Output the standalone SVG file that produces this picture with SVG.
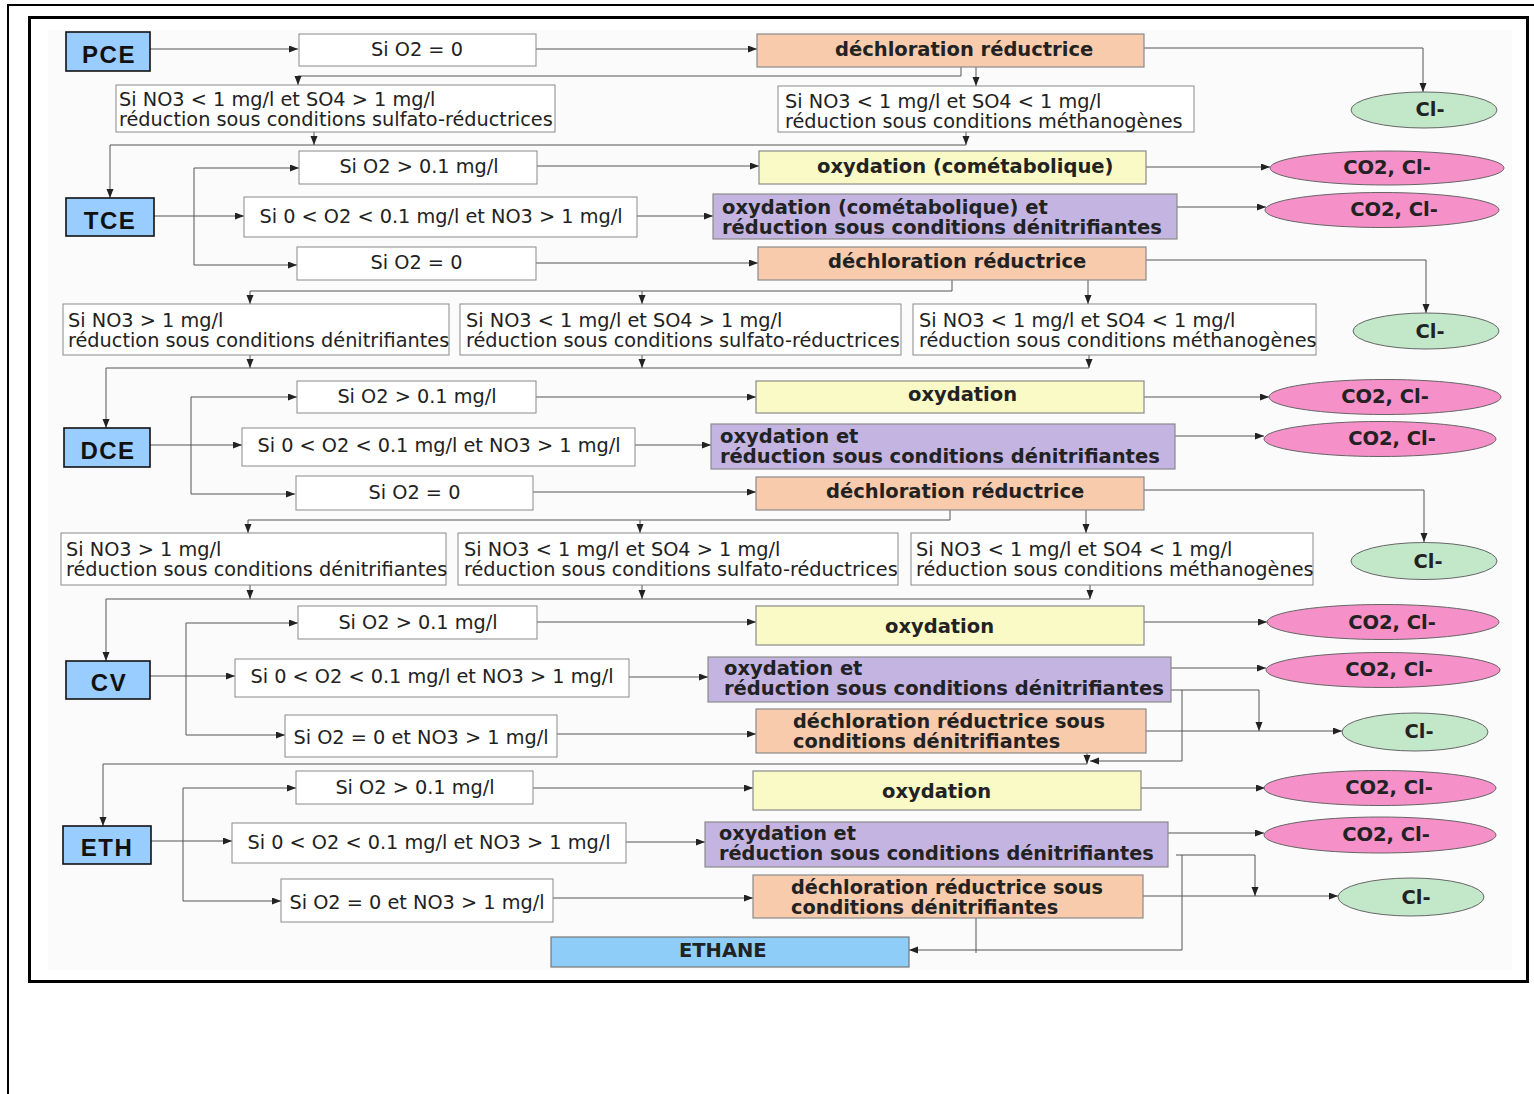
<svg xmlns="http://www.w3.org/2000/svg" width="1534" height="1094" viewBox="0 0 1534 1094">
<defs>
<style>
.frame{fill:none;stroke:#000}
.cond{fill:#fff;stroke:#8a8a8a;stroke-width:1}
.node{fill:#99ccff;stroke:#111;stroke-width:1.6}
.dech{fill:#f8cbad;stroke:#8a8a8a;stroke-width:1.2}
.oxy{fill:#fafac6;stroke:#8a8a8a;stroke-width:1.2}
.pur{fill:#c4b4e2;stroke:#8a8a8a;stroke-width:1.2}
.pink{fill:#f590c8;stroke:#666;stroke-width:1}
.green{fill:#c2e8c9;stroke:#666;stroke-width:1}
.eth{fill:#8dcdf8;stroke:#777;stroke-width:1.2}
.t{font-family:"DejaVu Sans",Verdana,sans-serif;font-size:19.3px;fill:#222}
.m{text-anchor:middle}
.b{font-family:"DejaVu Sans",Verdana,sans-serif;font-weight:bold;font-size:19.5px;fill:#222}
.b2{font-family:"DejaVu Sans",Verdana,sans-serif;font-weight:bold;font-size:19.3px;fill:#222}
.n{font-family:"Liberation Sans",Arial,sans-serif;font-weight:bold;font-size:24px;letter-spacing:1.5px;fill:#111;text-anchor:middle}
.c{fill:none;stroke:#555;stroke-width:1}
.a{marker-end:url(#ah)}
</style>
<marker id="ah" markerUnits="userSpaceOnUse" markerWidth="10" markerHeight="8" refX="9" refY="3.5" orient="auto">
<path d="M0,0 L9,3.5 L0,7 z" fill="#222"/>
</marker>
</defs>
<rect width="1534" height="1094" fill="#fff"/>
<path class="frame" d="M8,1094 V5 H1534" stroke-width="2"/>
<rect x="29.5" y="17.5" width="1498" height="964" class="frame" stroke-width="3"/>
<rect x="48" y="30" width="1464" height="940" fill="#fbfbfb"/>

<g id="connectors">
<path class="c a" d="M150,49 H298"/>
<path class="c a" d="M536,49 H757"/>
<path class="c a" d="M1144,48 H1423 V92"/>
<path class="c a" d="M961,67 V76 H298 V85"/>
<path class="c a" d="M976,67 V86"/>
<path class="c a" d="M314,132 V145"/>
<path class="c a" d="M966,132 V145"/>
<path class="c a" d="M966,145 H110 V198"/>
<path class="c a" d="M154,216 H244"/>
<path class="c" d="M194,168 V265"/>
<path class="c a" d="M194,168 H299"/>
<path class="c a" d="M194,265 H297"/>
<path class="c a" d="M537,166 H759"/>
<path class="c a" d="M1146,167 H1270"/>
<path class="c a" d="M637,216 H713"/>
<path class="c a" d="M1060,207 H1266"/>
<path class="c a" d="M536,263 H758"/>
<path class="c a" d="M1146,260 H1426 V313"/>
<path class="c a" d="M952,280 V291 H250 V304"/>
<path class="c a" d="M642,291 V304"/>
<path class="c a" d="M1088,280 V304"/>
<path class="c a" d="M250,355 V368"/>
<path class="c a" d="M642,355 V368"/>
<path class="c a" d="M1089,355 V368"/>
<path class="c a" d="M1089,368 H106 V428"/>
<path class="c a" d="M150,445 H242"/>
<path class="c" d="M191,397 V494"/>
<path class="c a" d="M191,397 H297"/>
<path class="c a" d="M191,494 H295"/>
<path class="c a" d="M536,397 H756"/>
<path class="c a" d="M1144,397 H1269"/>
<path class="c a" d="M635,445 H711"/>
<path class="c a" d="M867,436 H1264"/>
<path class="c a" d="M533,492 H756"/>
<path class="c a" d="M1144,490 H1424 V542"/>
<path class="c a" d="M950,510 V520 H248 V533"/>
<path class="c a" d="M640,520 V533"/>
<path class="c a" d="M1086,510 V533"/>
<path class="c a" d="M250,585 V599"/>
<path class="c a" d="M642,585 V599"/>
<path class="c a" d="M1090,585 V599"/>
<path class="c a" d="M1090,599 H106 V661"/>
<path class="c a" d="M150,676 H235"/>
<path class="c" d="M186,623 V735"/>
<path class="c a" d="M186,623 H298"/>
<path class="c a" d="M186,735 H285"/>
<path class="c a" d="M537,622 H756"/>
<path class="c a" d="M1144,622 H1267"/>
<path class="c a" d="M629,677 H708"/>
<path class="c a" d="M889,668 H1266"/>
<path class="c a" d="M557,734 H756"/>
<path class="c a" d="M1146,731 H1342"/>
<path class="c a" d="M1171,690 H1259 V731"/>
<path class="c a" d="M1182,690 V761 H1090"/>
<path class="c a" d="M1087,753 V764"/>
<path class="c a" d="M1087,764 H103 V826"/>
<path class="c a" d="M150,841 H232"/>
<path class="c" d="M183,788 V901"/>
<path class="c a" d="M183,788 H296"/>
<path class="c a" d="M183,901 H281"/>
<path class="c a" d="M533,788 H753"/>
<path class="c a" d="M1141,788 H1265"/>
<path class="c a" d="M626,842 H705"/>
<path class="c a" d="M886,833 H1264"/>
<path class="c a" d="M553,898 H753"/>
<path class="c a" d="M1143,896 H1338"/>
<path class="c a" d="M1176,855 H1255 V896"/>
<path class="c a" d="M1182,855 V950 H909"/>
<path class="c" d="M976,918 V953"/>
</g>

<g id="pce"><rect class="node" x="66" y="32" width="84" height="39"/><text class="n" x="109" y="63">PCE</text></g>
<g id="pce-o2-0"><rect class="cond" x="299" y="34" width="237" height="32"/><text class="t m" x="417" y="55.5">Si O2 = 0</text></g>
<g id="pce-dechl"><rect class="dech" x="757" y="34" width="387" height="33"/><text class="b" x="835" y="56">déchloration réductrice</text></g>
<g id="pce-cl"><ellipse class="green" cx="1424" cy="110" rx="73" ry="18"/><text class="b m" x="1430" y="116">Cl-</text></g>
<g id="pce-sulfato"><rect class="cond" x="116" y="85" width="439" height="47"/><text class="t" x="119" y="106">Si NO3 &lt; 1 mg/l et SO4 &gt; 1 mg/l<tspan x="119" dy="20">réduction sous conditions sulfato-réductrices</tspan></text></g>
<g id="pce-methano"><rect class="cond" x="778" y="86" width="416" height="46"/><text class="t" x="785" y="107.5">Si NO3 &lt; 1 mg/l et SO4 &lt; 1 mg/l<tspan x="785" dy="20">réduction sous conditions méthanogènes</tspan></text></g>

<g id="tce"><rect class="node" x="66" y="198" width="88" height="38"/><text class="n" x="110" y="228.5">TCE</text></g>
<g id="tce-o2-high"><rect class="cond" x="299" y="151" width="238" height="33"/><text class="t m" x="419" y="172.5">Si O2 &gt; 0.1 mg/l</text></g>
<g id="tce-o2-mid"><rect class="cond" x="244" y="197" width="393" height="40"/><text class="t m" x="441" y="222.5">Si 0 &lt; O2 &lt; 0.1 mg/l et NO3 &gt; 1 mg/l</text></g>
<g id="tce-o2-0"><rect class="cond" x="297" y="247" width="239" height="33"/><text class="t m" x="416.5" y="268.5">Si O2 = 0</text></g>
<g id="tce-oxy"><rect class="oxy" x="759" y="151" width="387" height="33"/><text class="b" x="817" y="172.5">oxydation (cométabolique)</text></g>
<g id="tce-co2-1"><ellipse class="pink" cx="1387" cy="168" rx="117" ry="17"/><text class="b m" x="1387" y="174">CO2, Cl-</text></g>
<g id="tce-oxyred"><rect class="pur" x="713" y="194" width="464" height="45"/><text class="b" x="722" y="213.5">oxydation (cométabolique) et<tspan x="722" dy="20">réduction sous conditions dénitrifiantes</tspan></text></g>
<g id="tce-co2-2"><ellipse class="pink" cx="1382" cy="210" rx="117" ry="17.5"/><text class="b m" x="1394" y="215.5">CO2, Cl-</text></g>
<g id="tce-dechl"><rect class="dech" x="758" y="247" width="388" height="33"/><text class="b" x="828" y="268">déchloration réductrice</text></g>
<g id="tce-cl"><ellipse class="green" cx="1426" cy="331" rx="73" ry="18"/><text class="b m" x="1430" y="338">Cl-</text></g>
<g id="tce-denit"><rect class="cond" x="63" y="304" width="386" height="51"/><text class="t" x="68" y="326.5">Si NO3 &gt; 1 mg/l<tspan x="68" dy="20">réduction sous conditions dénitrifiantes</tspan></text></g>
<g id="tce-sulfato"><rect class="cond" x="460" y="304" width="441" height="51"/><text class="t" x="466" y="326.5">Si NO3 &lt; 1 mg/l et SO4 &gt; 1 mg/l<tspan x="466" dy="20">réduction sous conditions sulfato-réductrices</tspan></text></g>
<g id="tce-methano"><rect class="cond" x="913" y="304" width="403" height="51"/><text class="t" x="919" y="326.5">Si NO3 &lt; 1 mg/l et SO4 &lt; 1 mg/l<tspan x="919" dy="20">réduction sous conditions méthanogènes</tspan></text></g>

<g id="dce"><rect class="node" x="64" y="428" width="86" height="39"/><text class="n" x="108" y="459">DCE</text></g>
<g id="dce-o2-high"><rect class="cond" x="297" y="381" width="239" height="32"/><text class="t m" x="417" y="402.5">Si O2 &gt; 0.1 mg/l</text></g>
<g id="dce-o2-mid"><rect class="cond" x="242" y="428" width="393" height="38"/><text class="t m" x="439" y="452">Si 0 &lt; O2 &lt; 0.1 mg/l et NO3 &gt; 1 mg/l</text></g>
<g id="dce-o2-0"><rect class="cond" x="296" y="476" width="237" height="34"/><text class="t m" x="414.5" y="498.5">Si O2 = 0</text></g>
<g id="dce-oxy"><rect class="oxy" x="756" y="381" width="388" height="32"/><text class="b" x="908" y="401">oxydation</text></g>
<g id="dce-co2-1"><ellipse class="pink" cx="1385" cy="397" rx="116" ry="17.5"/><text class="b m" x="1385" y="403">CO2, Cl-</text></g>
<g id="dce-oxyred"><rect class="pur" x="711" y="424" width="464" height="45"/><text class="b" x="720" y="443">oxydation et<tspan x="720" dy="20">réduction sous conditions dénitrifiantes</tspan></text></g>
<g id="dce-co2-2"><ellipse class="pink" cx="1380" cy="439" rx="116" ry="17.5"/><text class="b m" x="1392" y="444.5">CO2, Cl-</text></g>
<g id="dce-dechl"><rect class="dech" x="756" y="477" width="388" height="33"/><text class="b" x="826" y="497.5">déchloration réductrice</text></g>
<g id="dce-cl"><ellipse class="green" cx="1424" cy="561" rx="73" ry="18.5"/><text class="b m" x="1428" y="567.5">Cl-</text></g>
<g id="dce-denit"><rect class="cond" x="61" y="533" width="385" height="52"/><text class="t" x="66" y="556">Si NO3 &gt; 1 mg/l<tspan x="66" dy="20">réduction sous conditions dénitrifiantes</tspan></text></g>
<g id="dce-sulfato"><rect class="cond" x="458" y="533" width="440" height="52"/><text class="t" x="464" y="556">Si NO3 &lt; 1 mg/l et SO4 &gt; 1 mg/l<tspan x="464" dy="20">réduction sous conditions sulfato-réductrices</tspan></text></g>
<g id="dce-methano"><rect class="cond" x="911" y="533" width="402" height="52"/><text class="t" x="916" y="556">Si NO3 &lt; 1 mg/l et SO4 &lt; 1 mg/l<tspan x="916" dy="20">réduction sous conditions méthanogènes</tspan></text></g>

<g id="cv"><rect class="node" x="66" y="661" width="84" height="38"/><text class="n" x="109" y="691">CV</text></g>
<g id="cv-o2-high"><rect class="cond" x="298" y="606" width="239" height="33"/><text class="t m" x="418" y="628.5">Si O2 &gt; 0.1 mg/l</text></g>
<g id="cv-o2-mid"><rect class="cond" x="235" y="659" width="394" height="38"/><text class="t m" x="432" y="683">Si 0 &lt; O2 &lt; 0.1 mg/l et NO3 &gt; 1 mg/l</text></g>
<g id="cv-o2-0"><rect class="cond" x="285" y="715" width="272" height="42"/><text class="t m" x="421" y="743.5">Si O2 = 0 et NO3 &gt; 1 mg/l</text></g>
<g id="cv-oxy"><rect class="oxy" x="756" y="606" width="388" height="39"/><text class="b" x="885" y="632.5">oxydation</text></g>
<g id="cv-co2-1"><ellipse class="pink" cx="1383" cy="622" rx="116" ry="17.5"/><text class="b m" x="1392" y="628.5">CO2, Cl-</text></g>
<g id="cv-oxyred"><rect class="pur" x="708" y="657" width="463" height="45"/><text class="b" x="724" y="675">oxydation et<tspan x="724" dy="20">réduction sous conditions dénitrifiantes</tspan></text></g>
<g id="cv-co2-2"><ellipse class="pink" cx="1383" cy="670" rx="117" ry="17.5"/><text class="b m" x="1389" y="675.5">CO2, Cl-</text></g>
<g id="cv-dechl"><rect class="dech" x="756" y="709" width="390" height="44"/><text class="b2" x="793" y="728">déchloration réductrice sous<tspan x="793" dy="20">conditions dénitrifiantes</tspan></text></g>
<g id="cv-cl"><ellipse class="green" cx="1415" cy="732" rx="73" ry="19"/><text class="b m" x="1419" y="737.5">Cl-</text></g>

<g id="eth"><rect class="node" x="63" y="826" width="88" height="38"/><text class="n" x="107" y="856">ETH</text></g>
<g id="eth-o2-high"><rect class="cond" x="296" y="771" width="237" height="33"/><text class="t m" x="415" y="793.5">Si O2 &gt; 0.1 mg/l</text></g>
<g id="eth-o2-mid"><rect class="cond" x="232" y="823" width="394" height="40"/><text class="t m" x="429" y="848.5">Si 0 &lt; O2 &lt; 0.1 mg/l et NO3 &gt; 1 mg/l</text></g>
<g id="eth-o2-0"><rect class="cond" x="281" y="879" width="272" height="43"/><text class="t m" x="417" y="908.5">Si O2 = 0 et NO3 &gt; 1 mg/l</text></g>
<g id="eth-oxy"><rect class="oxy" x="753" y="771" width="388" height="39"/><text class="b" x="882" y="798">oxydation</text></g>
<g id="eth-co2-1"><ellipse class="pink" cx="1380" cy="788" rx="116" ry="17.5"/><text class="b m" x="1389" y="793.5">CO2, Cl-</text></g>
<g id="eth-oxyred"><rect class="pur" x="705" y="822" width="463" height="45"/><text class="b2" x="719" y="839.5">oxydation et<tspan x="719" dy="20">réduction sous conditions dénitrifiantes</tspan></text></g>
<g id="eth-co2-2"><ellipse class="pink" cx="1380" cy="835" rx="116" ry="18"/><text class="b m" x="1386" y="840.5">CO2, Cl-</text></g>
<g id="eth-dechl"><rect class="dech" x="753" y="875" width="390" height="43"/><text class="b2" x="791" y="894">déchloration réductrice sous<tspan x="791" dy="20">conditions dénitrifiantes</tspan></text></g>
<g id="eth-cl"><ellipse class="green" cx="1411" cy="897" rx="73" ry="19"/><text class="b m" x="1416" y="903.5">Cl-</text></g>
<g id="ethane"><rect class="eth" x="551" y="937" width="358" height="30"/><text class="b" x="679" y="956.5">ETHANE</text></g>
</svg>
